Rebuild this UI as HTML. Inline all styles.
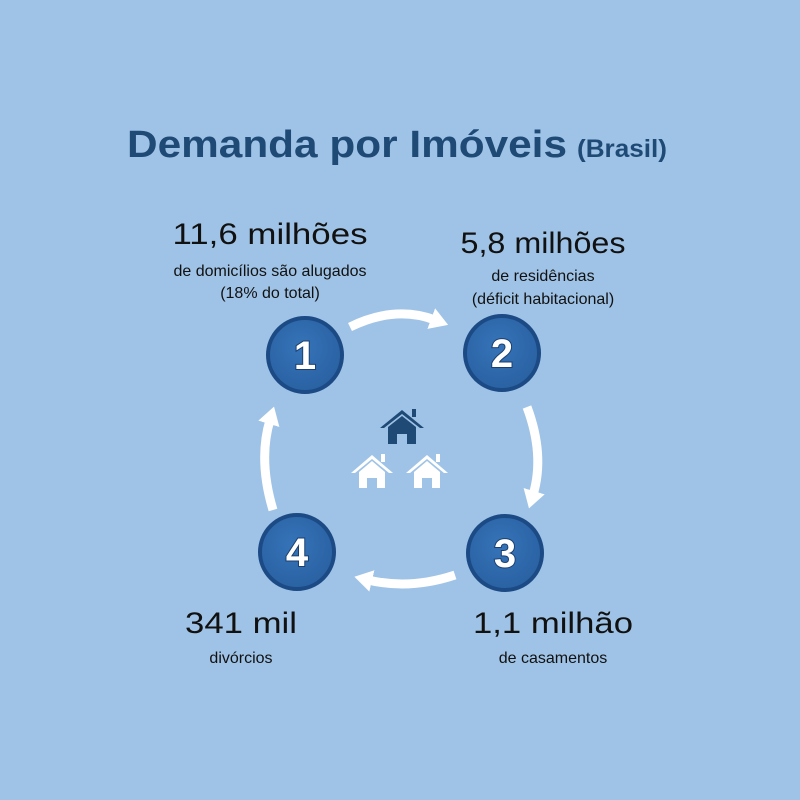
<!DOCTYPE html>
<html><head><style>body{margin:0}svg{display:block}</style></head><body>
<svg width="800" height="800" viewBox="0 0 800 800" xmlns="http://www.w3.org/2000/svg" font-family="Liberation Sans, sans-serif">
<defs>
<radialGradient id="g" cx="45%" cy="40%" r="60%"><stop offset="0" stop-color="#3573b8"/><stop offset="1" stop-color="#2a62a3"/></radialGradient>
<marker id="a" markerWidth="20" markerHeight="22" refX="4" refY="11" orient="auto" markerUnits="userSpaceOnUse"><path d="M0,0 L18,11 L0,22Z" fill="#fff"/></marker>
</defs>
<rect width="800" height="800" fill="#9fc3e6"/>
<text x="127" y="157" font-weight="bold" fill="#1f4a75" font-size="38" textLength="440" lengthAdjust="spacingAndGlyphs">Demanda por Imóveis</text>
<text x="577" y="157" font-weight="bold" fill="#1f4a75" font-size="25" textLength="90" lengthAdjust="spacingAndGlyphs">(Brasil)</text>
<g fill="#111" text-anchor="middle">
<text x="270" y="244" font-size="30" textLength="195" lengthAdjust="spacingAndGlyphs">11,6 milhões</text>
<text x="270" y="276" font-size="16">de domicílios são alugados</text>
<text x="270" y="298" font-size="16">(18% do total)</text>
<text x="543" y="253" font-size="30" textLength="165" lengthAdjust="spacingAndGlyphs">5,8 milhões</text>
<text x="543" y="281" font-size="16">de residências</text>
<text x="543" y="304" font-size="16">(déficit habitacional)</text>
<text x="241" y="633" font-size="30" textLength="112" lengthAdjust="spacingAndGlyphs">341 mil</text>
<text x="241" y="663" font-size="16">divórcios</text>
<text x="553" y="633" font-size="30" textLength="160" lengthAdjust="spacingAndGlyphs">1,1 milhão</text>
<text x="553" y="663" font-size="16">de casamentos</text>
</g>
<g fill="none" stroke="#fff" stroke-width="9" marker-end="url(#a)">
<path d="M350,327 Q395,305 435,320"/>
<path d="M527,407 Q545,455 533,495"/>
<path d="M455,575 Q410,590 368,580"/>
<path d="M273,510 Q258,460 270,420"/>
</g>
<g stroke="#1c4a85" stroke-width="4" fill="url(#g)">
<circle cx="305" cy="355" r="37"/><circle cx="502" cy="353" r="37"/>
<circle cx="505" cy="553" r="37"/><circle cx="297" cy="552" r="37"/>
</g>
<g fill="#fff" font-weight="bold" font-size="40" text-anchor="middle" style="paint-order:stroke" stroke="#1a3f6e" stroke-width="2">
<text x="305" y="369">1</text><text x="502" y="367">2</text>
<text x="505" y="567">3</text><text x="297" y="566">4</text>
</g>
<g fill="#1f4a75"><path d="M380,428 L402,410 L424,428 L420,428 L402,414 L384,428Z"/><rect x="412" y="409" width="4" height="8"/><path d="M388,427 L402,416 L416,427 L416,444 L407,444 L407,434 L397,434 L397,444 L388,444Z"/></g>
<g fill="#fff"><path d="M351,473 L372,455 L393,473 L389,473 L372,459 L355,473Z"/><rect x="381" y="454" width="4" height="8"/><path d="M359,472 L372,461 L385,472 L385,488 L377,488 L377,478 L367,478 L367,488 L359,488Z"/></g>
<g fill="#fff" transform="translate(55,0)"><path d="M351,473 L372,455 L393,473 L389,473 L372,459 L355,473Z"/><rect x="381" y="454" width="4" height="8"/><path d="M359,472 L372,461 L385,472 L385,488 L377,488 L377,478 L367,478 L367,488 L359,488Z"/></g>
</svg>
</body></html>
